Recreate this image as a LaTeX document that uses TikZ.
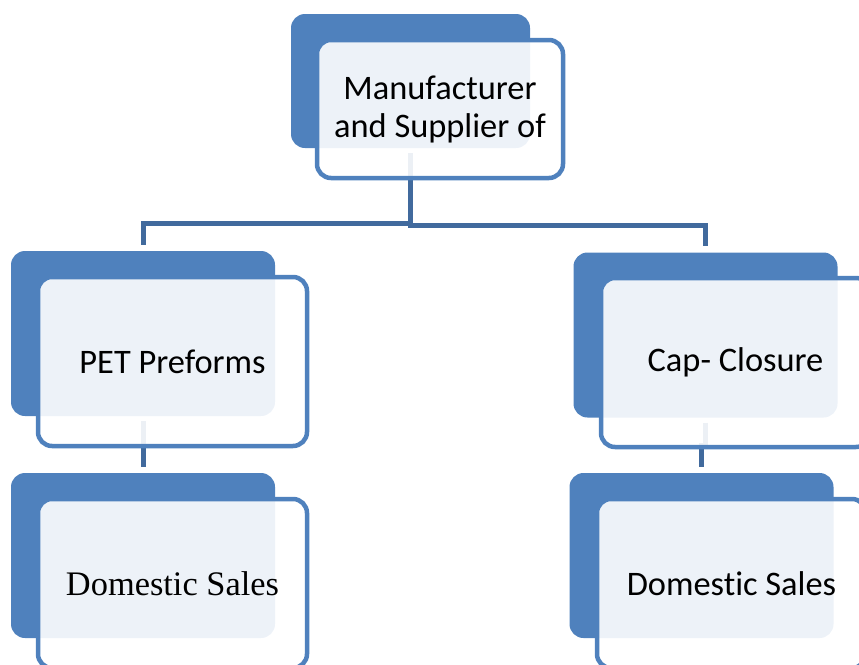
\documentclass[tikz,border=0pt]{standalone}
\usepackage{fontspec}
\setmainfont[Ligatures=NoCommon]{Carlito}
\newfontfamily\timesfont{Liberation Serif}
\usetikzlibrary{positioning}
\definecolor{boxblue}{HTML}{4F81BD}
\definecolor{linkblue}{HTML}{416A9D}

\begin{document}
\begin{tikzpicture}[x=1pt, y=-1pt,
                    back node/.style={rectangle,rounded corners=14pt,fill=boxblue,inner sep=0pt,
                                      minimum width=264pt,minimum height=165pt},
                    main node/.style={rectangle,rounded corners=14pt,draw=boxblue,line width=4.5pt,
                                      fill=white,fill opacity=0.9,text opacity=1,inner sep=0pt,
                                      minimum width=269pt,minimum height=169pt,align=center,
                                      font=\fontsize{34.4}{38}\selectfont},
                    link/.style={draw=linkblue,line width=5pt,shorten <=5pt,shorten >=6pt}]

  \useasboundingbox (0,0) rectangle (859,664);
  \clip (0,0) rectangle (859,664);

  % dark back boxes
  \node[back node,minimum width=239pt,minimum height=134pt] (mfgback) at (410.5,81) {};
  \node[back node] (petback) at (143,333.5) {};
  \node[back node] (capback) at (705.5,335) {};
  \node[back node] (domlback) at (143,555.5) {};
  \node[back node] (domrback) at (701.5,555.5) {};

  % connectors
  \draw[link] (mfgback.south) -- ++(0,75) -| (petback.north);
  \draw[link] (mfgback.south) -- ++(0,77) -| (capback.north);
  \draw[link] (petback.south) -- (domlback.north);
  \draw[link] (capback.south) -- ++(0,28) -| (domrback.north);

  % front boxes with the texts
  \node[main node,minimum width=246pt,minimum height=138pt] (mfg) at (440,109) {Manufacturer\\and Supplier of};
  \node[main node] (pet) at (172.5,361.5) {PET Preforms};
  \node[main node] (cap) at (735.5,362.5) {Cap- Closure};
  \node[main node,font=\timesfont\fontsize{34.4}{38}\selectfont] (doml) at (172.5,583.5) {Domestic Sales};
  \node[main node] (domr) at (731.5,583.5) {Domestic Sales};
\end{tikzpicture}
\end{document}
